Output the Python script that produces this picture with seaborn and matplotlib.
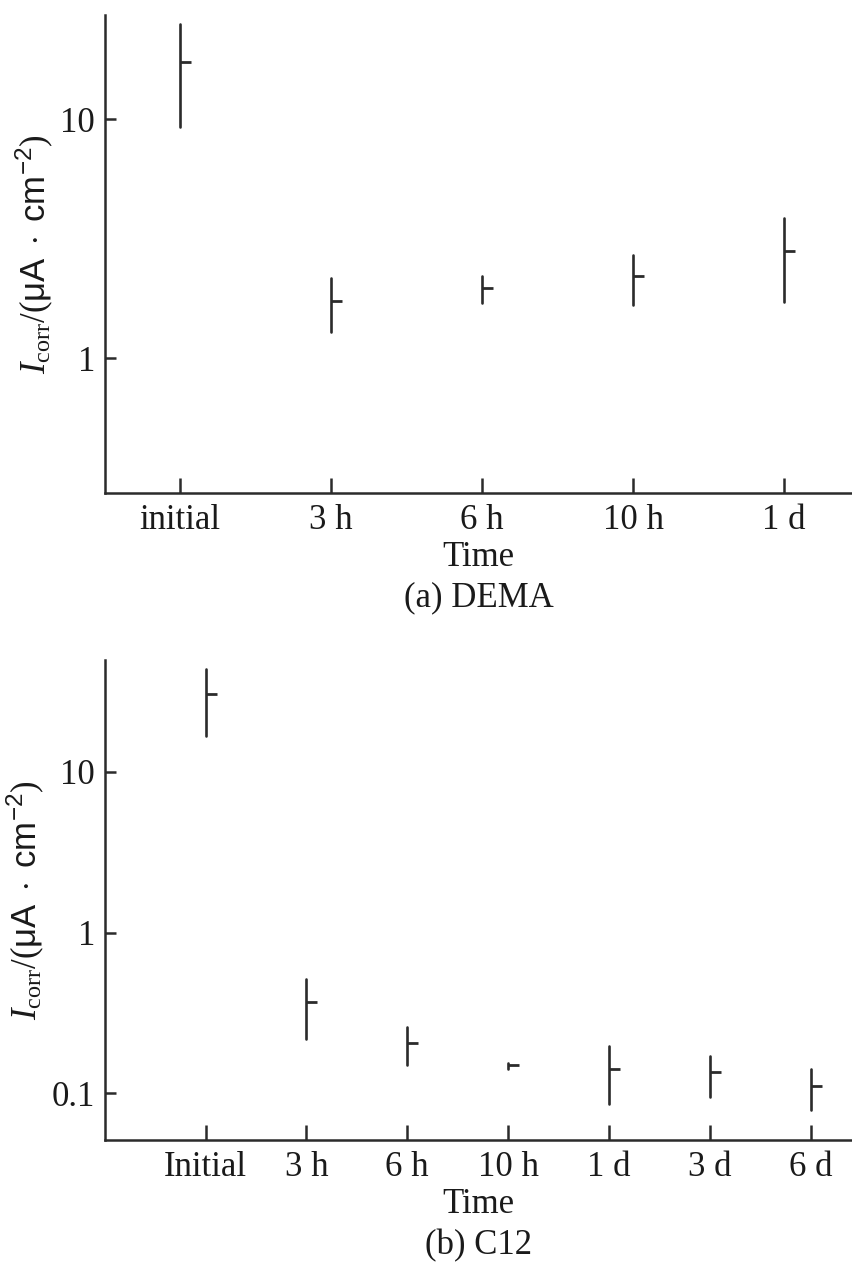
import numpy as np
import pandas as pd
import matplotlib.pyplot as plt
import seaborn as sns
from matplotlib.ticker import NullLocator

# ---------------- Data ----------------
dema_times = ["initial", "3 h", "6 h", "10 h", "1 d"]
dema_mid = [17.4, 1.73, 1.96, 2.22, 2.82]
dema_low = [9.3, 1.29, 1.70, 1.67, 1.72]
dema_high = [25.1, 2.17, 2.22, 2.71, 3.87]

c12_times = ["Initial", "3 h", "6 h", "10 h", "1 d", "3 d", "6 d"]
c12_mid = [30.7, 0.368, 0.206, 0.149, 0.142, 0.136, 0.111]
c12_low = [16.7, 0.216, 0.150, 0.142, 0.085, 0.095, 0.078]
c12_high = [43.5, 0.513, 0.259, 0.155, 0.197, 0.171, 0.142]


def long_form(times, low, mid, high):
    df = pd.DataFrame({"Time": times, "low": low, "mid": mid, "high": high})
    return df.melt(id_vars="Time", value_name="Icorr")


sns.set_style("ticks")
plt.rcParams["font.family"] = ["Liberation Serif", "DejaVu Serif"]
plt.rcParams["mathtext.fontset"] = "custom"
plt.rcParams["mathtext.rm"] = "Liberation Serif"
plt.rcParams["mathtext.it"] = "Liberation Serif:italic"
plt.rcParams["mathtext.sf"] = "Liberation Sans"

ink = "#2b2b2b"
fs = 25
fig = plt.figure(figsize=(8.52, 12.64), dpi=100)
ax_a = fig.add_axes([0.123, 0.610, 0.877, 0.378])
ax_b = fig.add_axes([0.123, 0.098, 0.877, 0.380])

panels = [
    (ax_a, dema_times, dema_low, dema_mid, dema_high, (-0.5, 4.45), (0.273, 27.3), [1, 10], ["1", "10"], "(a) DEMA"),
    (ax_b, c12_times, c12_low, c12_mid, c12_high, (-1.0, 6.41), (0.051, 49.9), [0.1, 1, 10], ["0.1", "1", "10"], "(b) C12"),
]

ylab = r"$I_{\mathrm{corr}}$/($\mathsf{\mu A\ \cdot\ cm^{-2}}$)"

for ax, times, low, mid, high, xlim, ylim, yt, ytl, title in panels:
    df = long_form(times, low, mid, high)
    sns.pointplot(data=df, x="Time", y="Icorr", order=times, estimator="median",
                  errorbar=("pi", 100), linestyle="none", marker=1, markersize=8,
                  markeredgewidth=2.0, color=ink, err_kws={"linewidth": 1.9}, ax=ax)
    ax.set_yscale("log")
    ax.set_xlim(*xlim)
    ax.set_ylim(*ylim)
    ax.set_yticks(yt)
    ax.set_yticklabels(ytl)
    ax.yaxis.set_minor_locator(NullLocator())
    ax.tick_params(axis="both", direction="in", colors=ink, labelcolor="#1a1a1a", labelsize=fs, width=1.8)
    ax.tick_params(axis="x", length=11, pad=8)
    ax.tick_params(axis="y", length=8, pad=7)
    sns.despine(ax=ax)
    for s in ["left", "bottom"]:
        ax.spines[s].set_linewidth(1.8)
        ax.spines[s].set_color(ink)
    ax.set_xlabel("Time", fontsize=fs, labelpad=3, color="#1a1a1a")
    ax.set_ylabel(ylab, fontsize=fs, labelpad=4, color="#1a1a1a")
    ax.text(0.5, -0.219, title, transform=ax.transAxes, ha="center", va="center",
            fontsize=fs, color="#1a1a1a")

plt.savefig("out.png", dpi=100)
